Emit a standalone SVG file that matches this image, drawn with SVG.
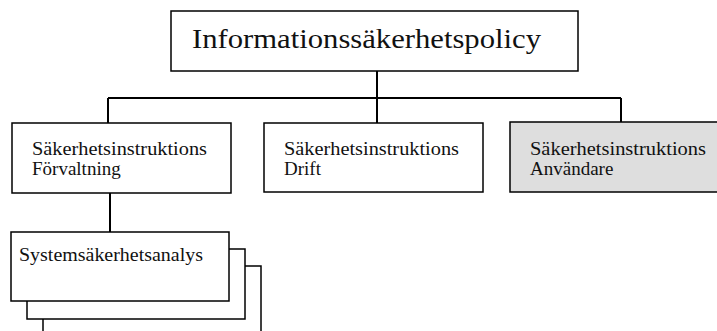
<svg xmlns="http://www.w3.org/2000/svg" width="717" height="331" viewBox="0 0 717 331">
<style>
.box{fill:#fff;stroke:#000;stroke-width:1.5}
.gray{fill:#dedede;stroke:#000;stroke-width:1.5}
.conn{stroke:#000;stroke-width:2;fill:none}
text{font-family:"Liberation Serif","Times New Roman",serif;fill:#111}
.t{font-size:19px}
.title{font-size:28px}
</style>
<rect width="717" height="331" fill="#fff"/>
<g id="connectors">
<line class="conn" x1="377" y1="71" x2="377" y2="98"/>
<line class="conn" x1="108" y1="98" x2="621" y2="98"/>
<line class="conn" x1="108" y1="98" x2="108" y2="123"/>
<line class="conn" x1="377" y1="98" x2="377" y2="123"/>
<line class="conn" x1="621" y1="98" x2="621" y2="122"/>
<line class="conn" x1="110" y1="193" x2="110" y2="232"/>
</g>
<g id="policy">
<rect class="box" x="171" y="11" width="407" height="60"/>
<text class="title" x="192" y="48" textLength="349" lengthAdjust="spacingAndGlyphs">Informationssäkerhetspolicy</text>
</g>
<g id="forvaltning">
<rect class="box" x="12" y="123" width="219" height="70"/>
<text class="t" x="32" y="155" textLength="175" lengthAdjust="spacingAndGlyphs">Säkerhetsinstruktions</text>
<text class="t" x="32" y="175">Förvaltning</text>
</g>
<g id="drift">
<rect class="box" x="264" y="123" width="219" height="69"/>
<text class="t" x="284" y="155" textLength="175" lengthAdjust="spacingAndGlyphs">Säkerhetsinstruktions</text>
<text class="t" x="284" y="175">Drift</text>
</g>
<g id="anvandare">
<rect class="gray" x="510" y="122" width="210" height="70"/>
<text class="t" x="530" y="155" textLength="176" lengthAdjust="spacingAndGlyphs">Säkerhetsinstruktions</text>
<text class="t" x="530" y="175">Användare</text>
</g>
<g id="systemsakerhetsanalys">
<rect class="box" x="43" y="266" width="218" height="80"/>
<rect class="box" x="27" y="249" width="218" height="70"/>
<rect class="box" x="11" y="232" width="218" height="69"/>
<text class="t" x="19" y="261" textLength="184" lengthAdjust="spacingAndGlyphs">Systemsäkerhetsanalys</text>
</g>
</svg>
